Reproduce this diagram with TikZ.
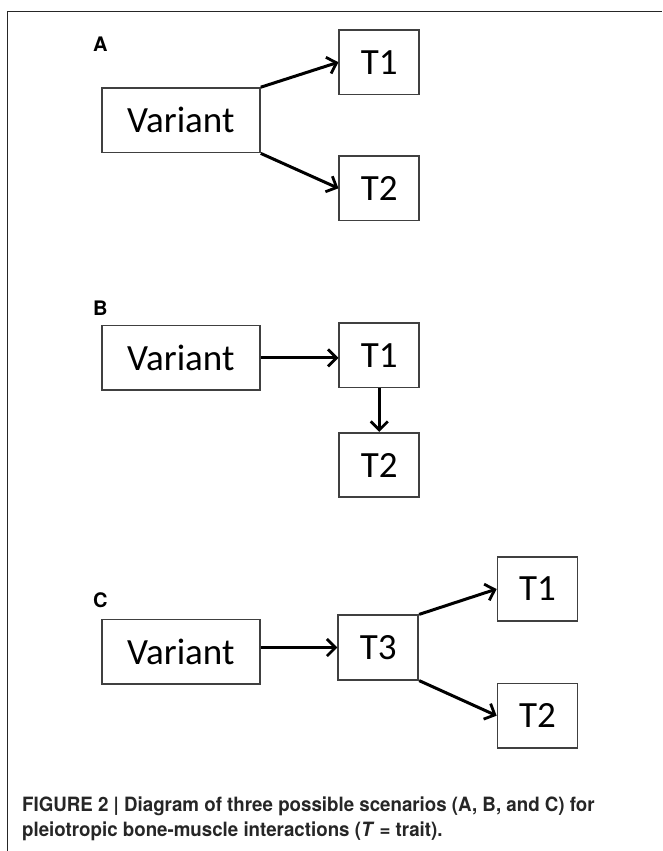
\documentclass[tikz,border=0pt]{standalone}
\usepackage{fontspec}
\setmainfont{Carlito}
\newfontfamily\capfont[FakeStretch=0.95]{TeX Gyre Heros}
\newfontfamily\lblfont{TeX Gyre Heros}
\usetikzlibrary{arrows.meta}
\begin{document}
\begin{tikzpicture}[x=1pt,y=-1pt,
  box/.style={draw=black!75, line width=1.7pt, minimum height=64.5pt, inner sep=0pt,
    font=\fontsize{37}{40}\selectfont},
  vbox/.style={box, minimum width=158.3pt},
  tbox/.style={box, minimum width=80pt},
  arr/.style={line width=3pt, -{Straight Barb[length=8.5pt,width=17pt,line width=2.8pt]}},
  plabel/.style={anchor=base west, inner sep=0pt, font=\lblfont\bfseries\fontsize{20}{22}\selectfont},
  capline/.style={anchor=base west, inner sep=0pt, font=\capfont\bfseries\fontsize{19.7}{22}\selectfont, text=black!85},
  frameline/.style={line width=1.8pt, draw=black!85}
]
\useasboundingbox (0,0) rectangle (662,851);
% frame
\coordinate (fbl) at (7.5,851);
\coordinate (ftl) at (7.5,11.5);
\coordinate (ftr) at (662,11.5);
\draw[frameline] (fbl) -- (ftl) -- (ftr);

% Panel A
\node[plabel] (labA) at (93,52) {A};
\node[vbox] (VA) at (180.8,120.3) {Variant};
\node[tbox] (T1A) at (379.3,62.2) {T1};
\node[tbox] (T2A) at (379.3,188.3) {T2};
\draw[arr] (VA.north east) -- (T1A.west);
\draw[arr] (VA.south east) -- (T2A.west);

% Panel B
\node[plabel] (labB) at (93,315) {B};
\node[vbox] (VB) at (180.8,357.8) {Variant};
\node[tbox] (T1B) at (379.3,355.3) {T1};
\node[tbox] (T2B) at (379.3,465) {T2};
\draw[arr] (VB.east) -- (VB.east -| T1B.west);
\draw[arr] (T1B.south) -- (T2B.north);

% Panel C
\node[plabel] (labC) at (93,607) {C};
\node[vbox] (VC) at (180.8,651.7) {Variant};
\node[tbox] (T3C) at (378.3,647.5) {T3};
\node[tbox] (T1C) at (537.5,589) {T1};
\node[tbox] (T2C) at (537.5,715.7) {T2};
\draw[arr] (T3C.west -| VC.east) -- (T3C.west);
\draw[arr] (T3C.north east) -- (T1C.west);
\draw[arr] (T3C.south east) -- (T2C.west);

% caption
\node[capline] (cap1) at (22,811) {FIGURE 2 | Diagram of three possible scenarios (A, B, and C) for};
\node[capline] (cap2) at (22,836) {pleiotropic bone-muscle interactions (\textit{T} = trait).};
\end{tikzpicture}
\end{document}
